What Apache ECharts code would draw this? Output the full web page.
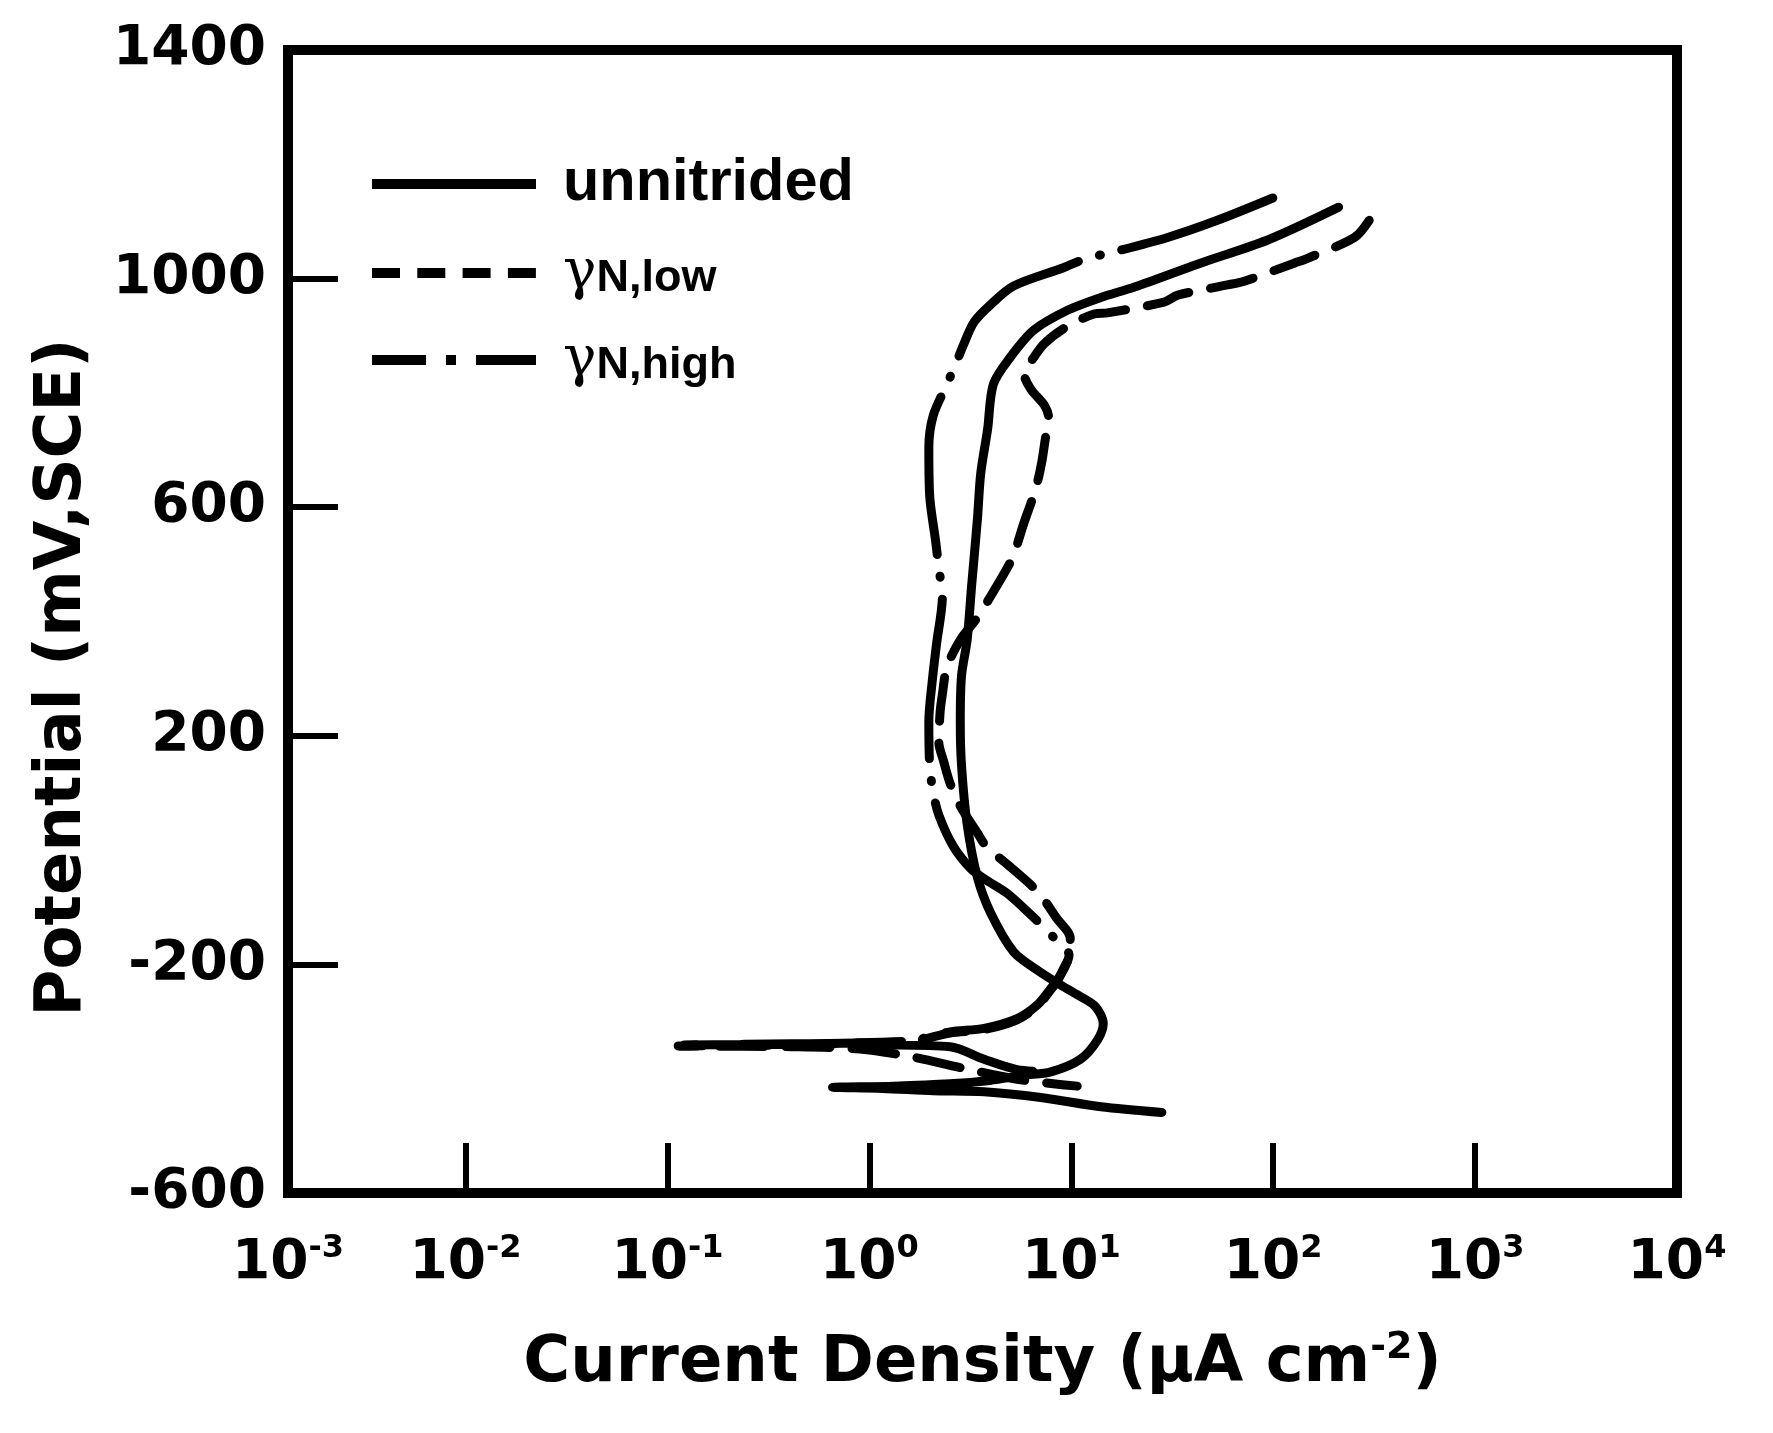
<!DOCTYPE html>
<html><head><meta charset="utf-8">
<script src="https://cdn.jsdelivr.net/npm/echarts@6/dist/echarts.min.js"></script>
<style>html,body{margin:0;padding:0;background:#fff}#c{width:1773px;height:1433px}</style>
</head><body><div id="c"></div>
<script>
// ---- data (current density in µA cm^-2, potential in mV vs SCE) ----
const seriesNames = ['unnitrided', 'γN,low', 'γN,high'];

const unnitridedCurrent = [28.1, 14.0, 7.06, 3.70, 2.07, 1.16, 0.657, 1.32, 2.51, 3.95, 5.82, 7.93, 11.1, 13.5, 14.4, 13.1, 10.7, 8.57, 6.79, 5.18, 4.0, 3.43, 3.05, 2.86, 2.82, 2.86, 3.05, 3.21, 3.43, 3.56, 3.85, 4.11, 4.98, 6.53, 9.63, 14.0, 20.4, 43.6, 94.6, 211];
const unnitridedPotential = [-459, -449, -433, -423, -421, -417, -415, -413, -409, -403, -394, -388, -366, -332, -303, -273, -253, -233, -210, -178, -111, -48, 45, 148, 225, 305, 368, 463, 580, 659, 736, 815, 862, 910, 945, 967, 985, 1027, 1068, 1125];

const lowCurrent = [10.7, 5.39, 2.94, 1.64, 0.895, 0.412, 0.113, 0.216, 0.412, 0.776, 1.64, 2.51, 3.70, 5.39, 6.79, 7.93, 8.57, 9.14, 9.88, 9.88, 8.46, 7.06, 6.05, 4.79, 3.80, 3.43, 2.82, 2.51, 2.33, 2.21, 2.24, 2.30, 2.42, 2.82, 3.43, 4.0, 4.79, 5.18, 5.82, 6.37, 6.79, 7.15, 7.44, 7.73, 7.34, 6.29, 5.82, 6.29, 7.34, 9.50, 12.96, 15.1, 28.8, 33.7, 59.4, 71.2, 127, 149, 253, 299];
const lowPotential = [-413, -401, -382, -362, -348, -344, -343, -342, -341, -338, -334, -320, -314, -297, -273, -244, -228, -208, -180, -154, -119, -79, -55, -24, 6, 30, 77, 117, 156, 188, 241, 273, 320, 368, 407, 445, 492, 516, 572, 611, 643, 680, 720, 756, 779, 807, 835, 854, 886, 916, 938, 940, 959, 971, 989, 995, 1027, 1036, 1072, 1102];

const highCurrent = [7.93, 5.39, 3.70, 2.51, 1.16, 0.412, 0.121, 0.412, 0.895, 1.64, 2.51, 3.70, 5.39, 6.79, 7.93, 8.57, 9.26, 9.75, 8.04, 6.21, 4.79, 3.70, 3.17, 2.61, 2.21, 2.07, 1.99, 1.97, 2.05, 2.15, 2.30, 2.21, 2.13, 1.99, 1.97, 2.07, 2.42, 2.68, 2.94, 3.30, 4.0, 5.18, 9.14, 12.0, 15.1, 30.0, 52.9, 99.6];
const highPotential = [-388, -384, -366, -344, -341, -340, -341, -339, -337, -333, -318, -312, -295, -271, -242, -226, -206, -184, -150, -111, -75, -50, -32, 6, 61, 101, 148, 225, 297, 360, 445, 492, 540, 619, 704, 760, 815, 851, 886, 924, 955, 987, 1019, 1036, 1044, 1072, 1102, 1141];

const xMin = 0.00132, xMax = 10000;   // left frame edge sits a little above 10^-3 in the original
const yMin = -600, yMax = 1400, yInterval = 400;
const xTitle = ['Current Density (μA cm', '-2', ')'];
const yTitle = 'Potential (mV,SCE)';

// ---- chart ----
// pairs are listed from the cathodic end; the dashed curves are stroked from their upper end
function zip(a, b) { return a.map((v, i) => [v, b[i]]); }
const SANS = 'DejaVu Sans';
const ARIAL = 'Liberation Sans';

const chart = echarts.init(document.getElementById('c'), null, { renderer: 'canvas' });
const lineBase = { color: '#000', width: 9, cap: 'round', join: 'round' };

chart.setOption({
  animation: false,
  backgroundColor: '#fff',
  color: ['#000', '#000', '#000'],
  grid: { left: 288, right: 96, top: 50, bottom: 240, show: true, borderColor: '#000', borderWidth: 10, backgroundColor: 'transparent' },
  xAxis: {
    type: 'log', logBase: 10, min: xMin, max: xMax, splitNumber: 7,
    axisLine: { show: false, onZero: false }, splitLine: { show: false },
    axisTick: { show: true, inside: true, length: 50, lineStyle: { color: '#000', width: 6 } },
    axisLabel: {
      margin: 40, showMinLabel: true, showMaxLabel: true,
      formatter: v => '{b|10}{s|' + Math.round(Math.log10(v)) + '}',
      rich: {
        b: { fontFamily: SANS, fontWeight: 'bold', fontSize: 55, color: '#000', lineHeight: 62 },
        s: { fontFamily: SANS, fontWeight: 'bold', fontSize: 32, color: '#000', verticalAlign: 'top', lineHeight: 30 }
      }
    },
    name: '{t|' + xTitle[0] + '}{p|' + xTitle[1] + '}{t|' + xTitle[2] + '}',
    nameLocation: 'middle', nameGap: 136,
    nameTextStyle: {
      rich: {
        t: { fontFamily: SANS, fontWeight: 'bold', fontSize: 64, color: '#000', lineHeight: 70 },
        p: { fontFamily: SANS, fontWeight: 'bold', fontSize: 38, color: '#000', verticalAlign: 'top', lineHeight: 36 }
      }
    }
  },
  yAxis: {
    type: 'value', min: yMin, max: yMax, interval: yInterval,
    axisLine: { show: false }, splitLine: { show: false },
    axisTick: { show: true, inside: true, length: 50, lineStyle: { color: '#000', width: 6 } },
    axisLabel: { margin: 22, fontFamily: SANS, fontWeight: 'bold', fontSize: 55, color: '#000', formatter: v => String(v) },
    name: yTitle, nameLocation: 'middle', nameRotate: 90, nameGap: 193,
    nameTextStyle: { fontFamily: SANS, fontWeight: 'bold', fontSize: 64, color: '#000', padding: [0, 112, 0, 0] }
  },
  legend: {
    orient: 'vertical', left: 362, top: 149, itemWidth: 164, itemHeight: 60, itemGap: 31,
    selectedMode: false,
    itemStyle: { opacity: 0, borderWidth: 0 },
    formatter: n => n === 'unnitrided' ? '{u|unnitrided}' : '{g|γ}{s|' + n.slice(1) + '}',
    textStyle: {
      rich: {
        u: { fontFamily: ARIAL, fontWeight: 'bold', fontSize: 59.5, color: '#000', padding: [0, 0, 0, 22] },
        g: { fontFamily: 'DejaVu Serif', fontSize: 56, color: '#000', padding: [0, 0, 0, 22] },
        s: { fontFamily: ARIAL, fontWeight: 'bold', fontSize: 45, color: '#000', verticalAlign: 'bottom' }
      }
    },
    data: [
      { name: seriesNames[0], lineStyle: { width: 10, cap: 'butt', color: '#000' } },
      { name: seriesNames[1], lineStyle: { width: 10, cap: 'butt', color: '#000', type: [28, 17.3] } },
      { name: seriesNames[2], lineStyle: { width: 10, cap: 'butt', color: '#000', type: [54, 20, 10, 20, 60] } }
    ]
  },
  series: [
    { name: seriesNames[0], type: 'line', symbol: 'none', smooth: 0.3, data: zip(unnitridedCurrent, unnitridedPotential),
      itemStyle: { color: '#000' }, lineStyle: Object.assign({}, lineBase, { type: 'solid' }) },
    { name: seriesNames[1], type: 'line', symbol: 'none', smooth: 0.3, data: zip(lowCurrent, lowPotential).reverse(),
      itemStyle: { color: '#000' }, lineStyle: Object.assign({}, lineBase, { type: [44, 22] }) },
    { name: seriesNames[2], type: 'line', symbol: 'none', smooth: 0.3, data: zip(highCurrent, highPotential).reverse(),
      itemStyle: { color: '#000' }, lineStyle: Object.assign({}, lineBase, { type: [160, 22, 1, 22] }) }
  ]
});
</script>
</body></html>
